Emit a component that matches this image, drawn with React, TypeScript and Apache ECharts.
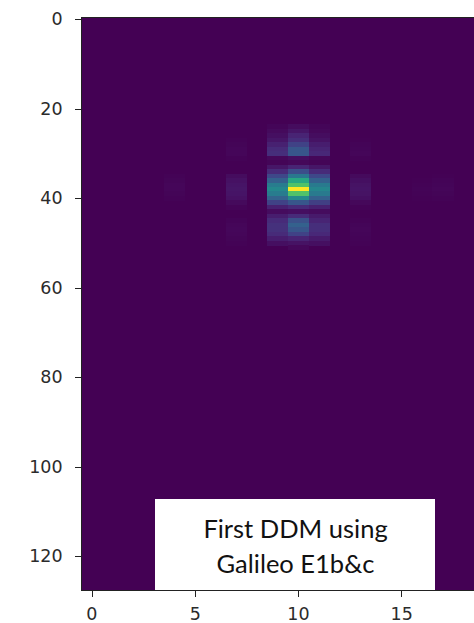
import React, { useEffect, useRef } from "react";
import * as echarts from "echarts";

const columnCount = 19;
const rowCount = 128;
const xLabels = Array.from({ length: columnCount }, (_, i) => String(i));
const yLabels = Array.from({ length: rowCount }, (_, i) => String(i));
const firstRow = 24;

// Estimated intensity per column, starting from row 24 (rows 24..52)
const col4 = [0,0,0,0,0,0,0,0,0,0,0,0.005,0.01,0.015,0.015,0.01,0.005,0,0,0,0,0,0,0,0,0,0,0,0];
const col7 = [0,0,0,0.006,0.01,0.015,0.015,0.005,0,0,0,0.03,0.045,0.055,0.06,0.055,0.045,0.025,0.008,0,0,0.008,0.015,0.018,0.015,0.01,0.006,0,0];
const col9 = [0.012,0.025,0.04,0.06,0.09,0.12,0.13,0.02,0.01,0.06,0.12,0.22,0.31,0.42,0.47,0.42,0.32,0.2,0.09,0.03,0.08,0.12,0.14,0.14,0.12,0.08,0.04,0,0];
const col10 = [0.03,0.06,0.1,0.13,0.2,0.27,0.27,0.04,0.02,0.1,0.24,0.4,0.6,0.72,1,0.72,0.48,0.27,0.12,0.04,0.12,0.25,0.31,0.27,0.2,0.1,0.05,0.02,0];
const col11 = [0.012,0.02,0.035,0.05,0.08,0.1,0.11,0.02,0.01,0.06,0.12,0.22,0.31,0.41,0.46,0.41,0.31,0.19,0.09,0.03,0.07,0.1,0.13,0.13,0.11,0.07,0.04,0,0];
const col13 = [0,0,0,0.004,0.008,0.012,0.015,0.005,0,0,0,0.025,0.04,0.05,0.055,0.05,0.04,0.02,0.006,0,0,0.006,0.012,0.015,0.012,0.008,0.005,0,0];
const col16 = [0,0,0,0,0,0,0,0,0,0,0,0,0.003,0.006,0.008,0.005,0.003,0,0,0,0,0,0,0,0,0,0,0,0];
const col17 = [0,0,0,0,0,0,0,0,0,0,0,0.003,0.008,0.012,0.015,0.01,0.005,0,0,0,0,0,0,0,0,0,0,0,0];

const columns: [number, number[]][] = [
  [4, col4], [7, col7], [9, col9], [10, col10], [11, col11], [13, col13], [16, col16], [17, col17],
];

const viridis = ["#440154", "#482878", "#3e4989", "#31688e", "#26828e", "#1f9e89", "#35b779", "#6ece58", "#b5de2b", "#fde725"];
const noteLines = "First DDM using\nGalileo E1b&c";

function buildData() {
  const cells: number[][] = [];
  for (const [c, values] of columns) {
    values.forEach((v, i) => {
      if (v > 0) cells.push([c, firstRow + i, v]);
    });
  }
  return cells;
}

export default function App() {
  const ref = useRef<HTMLDivElement>(null);
  useEffect(() => {
    const chart = echarts.init(ref.current!, null, { renderer: "svg" });
    const axisText = { color: "#2b2b2b", fontFamily: "DejaVu Sans", fontSize: 17.5 };
    const line = { lineStyle: { color: "#222", width: 1 } };
    chart.setOption({
      animation: false,
      backgroundColor: "#ffffff",
      grid: { show: true, backgroundColor: viridis[0], borderWidth: 0, left: 81.6, top: 17.2, width: 393.3, height: 573.4, containLabel: false },
      xAxis: {
        type: "category",
        data: xLabels,
        position: "bottom",
        splitArea: { show: false },
        splitLine: { show: false },
        axisLine: { show: true, ...line },
        axisTick: { show: true, alignWithLabel: true, interval: 4, length: 7, ...line },
        axisLabel: { ...axisText, interval: 4, margin: 15 },
      },
      yAxis: {
        type: "category",
        data: yLabels,
        inverse: true,
        position: "left",
        splitArea: { show: false },
        splitLine: { show: false },
        axisLine: { show: true, ...line },
        axisTick: { show: true, alignWithLabel: true, interval: 19, length: 7, ...line },
        axisLabel: { ...axisText, interval: 19, margin: 19 },
      },
      visualMap: {
        show: false,
        min: 0,
        max: 1,
        dimension: 2,
        inRange: { color: viridis },
      },
      series: [
        {
          type: "heatmap",
          data: buildData(),
          progressive: 0,
          itemStyle: { borderWidth: 0 },
          emphasis: { disabled: true },
        },
      ],
      graphic: [
        { type: "line", z: 50, shape: { x1: 81, y1: 17, x2: 474, y2: 17 }, style: { stroke: "#222", lineWidth: 1 } },
        { type: "rect", z: 60, shape: { x: 155, y: 499, width: 280, height: 91 }, style: { fill: "#ffffff" } },
        {
          type: "text",
          z: 61,
          x: 295.5,
          y: 545.5,
          style: {
            text: noteLines,
            fill: "#111",
            font: "25.5px Lato",
            align: "center",
            verticalAlign: "middle",
            lineHeight: 35,
          },
        },
      ],
    });
    return () => chart.dispose();
  }, []);
  return (
    <>
      <style>{"svg path { shape-rendering: crispEdges; }"}</style>
      <div ref={ref} style={{ position: "fixed", left: 0, top: 0, width: 474, height: 623 }} />
    </>
  );
}
